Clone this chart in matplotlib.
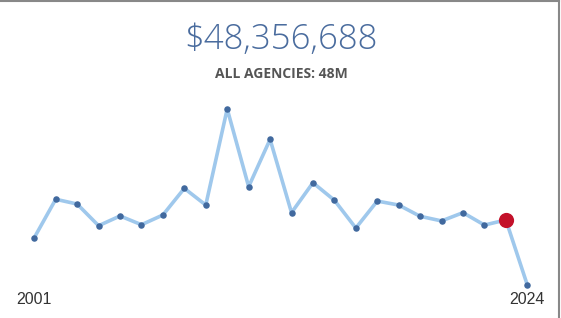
import matplotlib.pyplot as plt
from matplotlib.lines import Line2D

# Data (millions of dollars, per year)
years = list(range(2001, 2025))
spending = [37.7, 60.9, 58.0, 44.9, 50.8, 45.5, 51.4, 67.5, 57.4, 115.5,
            68.5, 97.1, 52.8, 70.9, 60.3, 43.5, 59.8, 57.4, 50.6, 47.8,
            52.8, 45.3, 48.4, 9.1]
highlight_year = 2023
total_label = '$48,356,688'
sub_label = 'ALL AGENCIES: 48M'

W, H = 561, 318
fig = plt.figure(figsize=(W / 100, H / 100), dpi=100)
ax = fig.add_axes([0, 0, 1, 1])

# pixel mapping: 2001 at x=34.3, 2024 at x=527.3; value 0 at y=300 (from top)
px_year = (527.3 - 34.3) / 23
ax.set_xlim(2001 - 34.3 / px_year, 2024 + (W - 527.3) / px_year)
per_px = 48.36 / 80
ax.set_ylim(-18 * per_px, (H - 18) * per_px)
ax.axis('off')

ax.plot(years, spending, color='#9fc8ec', lw=2.6, zorder=1,
        solid_joinstyle='round')
ax.scatter(years, spending, s=22, color='#41699e', zorder=2, linewidths=0)
hi = years.index(highlight_year)
ax.scatter([years[hi]], [spending[hi]], s=120, color='#c3112a', zorder=3,
           linewidths=0)

fig.text(281 / W, 1 - 40 / H, total_label, ha='center', va='center',
         fontsize=25, color='#4a6c9e', family='Open Sans', weight='light')
fig.text(281 / W, 1 - 74 / H, sub_label, ha='center', va='center',
         fontsize=10, color='#555555', family='Open Sans', weight='bold')
fig.text(33.5 / W, 1 - 299 / H, str(years[0]), ha='center', va='center',
         fontsize=11.5, color='#333333', family='Liberation Sans')
fig.text(527 / W, 1 - 299 / H, str(years[-1]), ha='center', va='center',
         fontsize=11.5, color='#333333', family='Liberation Sans')

# card border (top and right)
fig.add_artist(Line2D([0, 558.5 / W], [1 - 0.8 / H, 1 - 0.8 / H],
                      transform=fig.transFigure, color='#888888', lw=1.5))
fig.add_artist(Line2D([558.5 / W, 558.5 / W], [0, 1 - 0.8 / H],
                      transform=fig.transFigure, color='#888888', lw=1.5))

fig.savefig('out.png', dpi=100)
